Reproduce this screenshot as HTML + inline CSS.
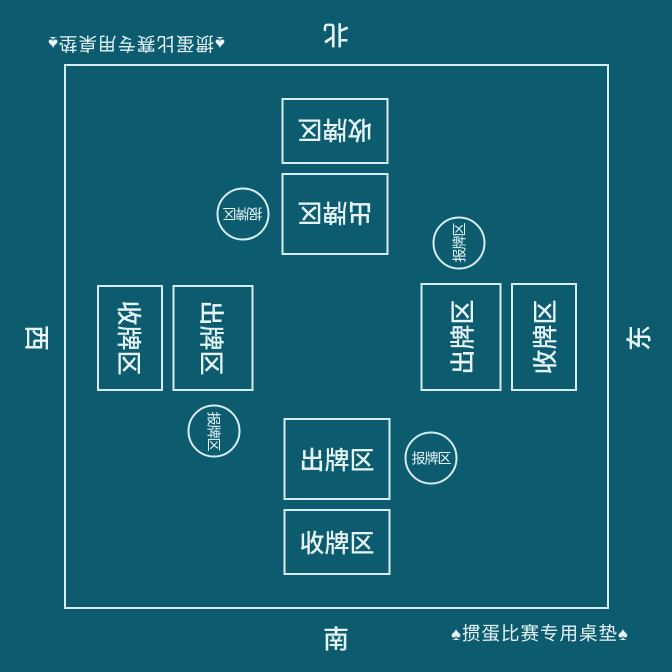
<!DOCTYPE html><html><head><meta charset="utf-8"><style>
body{margin:0;background:#0d5b6f;}
#c{position:relative;width:672px;height:672px;background:#0d5b6f;overflow:hidden;font-family:"Liberation Sans","Noto Sans CJK SC",sans-serif;color:#e6f6f8;}
.o{position:absolute;left:64px;top:64px;width:541px;height:541px;border:2px solid #d6eef2;}
.e{position:absolute;transform:translate(-50%,-50%) rotate(var(--r));display:flex;align-items:center;justify-content:center;box-sizing:border-box;white-space:nowrap;}
.b{border:2px solid #d6eef2;font-size:25px;font-weight:500;}
.ci{border:2px solid #d6eef2;border-radius:50%;width:53px;height:53px;font-size:14px;letter-spacing:-1px;}
.t{font-size:26px;font-weight:500;}
.s{font-size:18.5px;letter-spacing:1px;}
</style></head><body><div id="c">
<div class="o"></div>
<!-- north -->
<div class="e b" style="left:335px;top:131px;width:107px;height:66px;--r:180deg">收牌区</div>
<div class="e b" style="left:335px;top:214px;width:107px;height:82px;--r:180deg">出牌区</div>
<div class="e ci" style="left:243px;top:214px;--r:180deg">报牌区</div>
<div class="e t" style="left:336px;top:36px;--r:180deg">北</div>
<div class="e s" style="left:136px;top:44px;--r:180deg">♠掼蛋比赛专用桌垫♠</div>
<!-- south -->
<div class="e b" style="left:337px;top:459px;width:107px;height:82px;--r:0deg">出牌区</div>
<div class="e b" style="left:337px;top:542px;width:107px;height:66px;--r:0deg">收牌区</div>
<div class="e ci" style="left:431px;top:458px;--r:0deg">报牌区</div>
<div class="e t" style="left:336px;top:638px;--r:0deg">南</div>
<div class="e s" style="left:540px;top:633px;--r:0deg">♠掼蛋比赛专用桌垫♠</div>
<!-- west -->
<div class="e b" style="left:130px;top:338px;width:106px;height:66px;--r:90deg">收牌区</div>
<div class="e b" style="left:213px;top:338px;width:106px;height:81px;--r:90deg">出牌区</div>
<div class="e ci" style="left:214px;top:431px;--r:90deg">报牌区</div>
<div class="e t" style="left:38px;top:338px;--r:90deg">西</div>
<!-- east -->
<div class="e b" style="left:461px;top:337px;width:108px;height:81px;--r:-90deg">出牌区</div>
<div class="e b" style="left:544px;top:337px;width:108px;height:66px;--r:-90deg">收牌区</div>
<div class="e ci" style="left:459px;top:243px;--r:-90deg">报牌区</div>
<div class="e t" style="left:638px;top:338px;--r:-90deg">东</div>
</div></body></html>
